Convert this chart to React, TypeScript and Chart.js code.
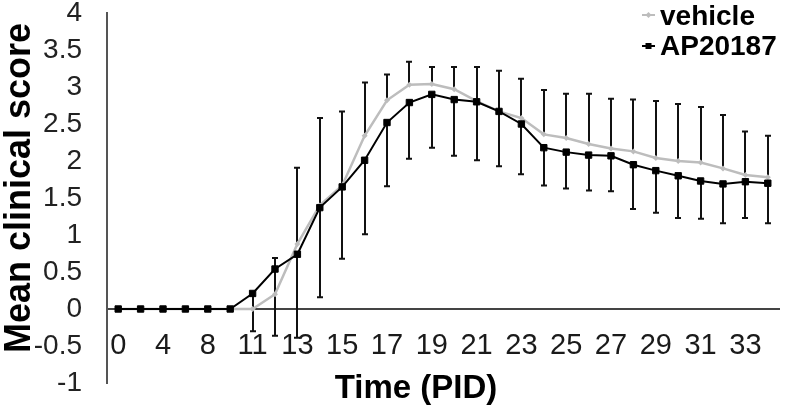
import React, { useEffect, useRef } from 'react';
import { Chart, registerables } from 'chart.js';

Chart.register(...registerables);

// ---- data ----
const days = ['0', '2', '4', '6', '8', '10', '11', '12', '13', '14', '15', '16', '17', '18', '19', '20', '21', '22', '23', '24', '25', '26', '27', '28', '29', '30', '31', '32', '33', '34'];
const vehicle = [0, 0, 0, 0, 0, 0, 0, 0.2, 0.88, 1.4, 1.67, 2.34, 2.82, 3.03, 3.04, 2.97, 2.81, 2.67, 2.58, 2.36, 2.31, 2.23, 2.17, 2.13, 2.04, 2.0, 1.98, 1.9, 1.81, 1.78];
const vehicleErrUp = [0, 0, 0, 0, 0, 0, 0, 0.49, 1.03, 1.18, 1.0, 0.72, 0.35, 0.31, 0.23, 0.3, 0.46, 0.55, 0.53, 0.6, 0.6, 0.68, 0.67, 0.7, 0.77, 0.77, 0.75, 0.72, 0.59, 0.56];
const ap20187 = [0, 0, 0, 0, 0, 0, 0.21, 0.54, 0.74, 1.37, 1.65, 2.01, 2.52, 2.79, 2.9, 2.83, 2.8, 2.67, 2.5, 2.18, 2.12, 2.08, 2.07, 1.95, 1.87, 1.8, 1.73, 1.69, 1.72, 1.7];
const ap20187ErrDown = [0, 0, 0, 0, 0, 0, 0.51, 0.9, 1.13, 1.21, 0.97, 1.0, 0.86, 0.76, 0.72, 0.76, 0.79, 0.74, 0.68, 0.51, 0.49, 0.48, 0.48, 0.6, 0.57, 0.57, 0.51, 0.53, 0.49, 0.54];
const seriesNames = ['vehicle', 'AP20187'];
const yTitle = 'Mean clinical score';
const xTitle = 'Time (PID)';
const yMin = -1;
const yMax = 4;
const yStep = 0.5;

const FONT = '"Liberation Sans", Arial, Helvetica, sans-serif';
const GREY = '#bdbdbd';
const BLACK = '#000000';

const errorBarPlugin = {
  id: 'errorBars',
  beforeDatasetsDraw(chart: any) {
    const { ctx } = chart;
    const xs = chart.scales.x;
    const ys = chart.scales.y;
    ctx.save();
    ctx.strokeStyle = '#111';
    ctx.lineWidth = 2;
    const cap = 3;
    const bar = (i: number, from: number, to: number) => {
      const px = Math.round(xs.getPixelForValue(i));
      const p1 = ys.getPixelForValue(from);
      const p2 = ys.getPixelForValue(to);
      ctx.beginPath();
      ctx.moveTo(px, p1);
      ctx.lineTo(px, p2);
      ctx.moveTo(px - cap, p2);
      ctx.lineTo(px + cap, p2);
      ctx.stroke();
    };
    vehicle.forEach((v, i) => {
      if (vehicleErrUp[i] > 0) bar(i, v, v + vehicleErrUp[i]);
    });
    ap20187.forEach((v, i) => {
      if (ap20187ErrDown[i] > 0) bar(i, v, v - ap20187ErrDown[i]);
    });
    ctx.restore();
  },
};

const decorPlugin = {
  id: 'decor',
  afterDraw(chart: any) {
    const { ctx, chartArea } = chart;
    ctx.save();
    // axis titles
    ctx.fillStyle = '#000';
    ctx.textAlign = 'center';
    ctx.textBaseline = 'middle';
    ctx.font = `bold 36px ${FONT}`;
    ctx.save();
    ctx.translate(20, (chartArea.top + chartArea.bottom) / 2 - 10);
    ctx.rotate(-Math.PI / 2);
    ctx.fillText(yTitle, 0, 0);
    ctx.restore();
    ctx.font = `bold 33px ${FONT}`;
    ctx.fillText(xTitle, chartArea.left + 309, chartArea.bottom + 6);

    // legend
    ctx.font = `bold 28px ${FONT}`;
    ctx.textAlign = 'left';
    ctx.textBaseline = 'alphabetic';
    const r = chartArea.right;
    const rows = [
      { name: seriesNames[0], color: GREY, y: chartArea.top + 2, base: chartArea.top + 12, marker: 'diamond' },
      { name: seriesNames[1], color: BLACK, y: chartArea.top + 33, base: chartArea.top + 42, marker: 'square' },
    ];
    rows.forEach((row) => {
      ctx.strokeStyle = row.color;
      ctx.fillStyle = row.color;
      ctx.lineWidth = 2;
      ctx.beginPath();
      ctx.moveTo(r - 137, row.y);
      ctx.lineTo(r - 124, row.y);
      ctx.stroke();
      const cx = r - 130.5;
      if (row.marker === 'square') {
        ctx.fillRect(cx - 3, row.y - 3, 6, 6);
      } else {
        ctx.beginPath();
        ctx.moveTo(cx, row.y - 3);
        ctx.lineTo(cx + 3, row.y);
        ctx.lineTo(cx, row.y + 3);
        ctx.lineTo(cx - 3, row.y);
        ctx.closePath();
        ctx.fill();
      }
      ctx.fillStyle = '#000';
      ctx.fillText(row.name, r - 119, row.base);
    });
    ctx.restore();
  },
};

export default function App() {
  const ref = useRef<HTMLCanvasElement | null>(null);

  useEffect(() => {
    if (!ref.current) return;
    const chart = new Chart(ref.current, {
      type: 'line',
      data: {
        labels: days,
        datasets: [
          {
            label: seriesNames[1],
            data: ap20187,
            borderColor: BLACK,
            backgroundColor: BLACK,
            borderWidth: 2,
            pointStyle: 'rect',
            pointRadius: 4.5,
            pointBorderWidth: 1,
            pointBackgroundColor: BLACK,
            pointBorderColor: BLACK,
            tension: 0,
            order: 0,
          },
          {
            label: seriesNames[0],
            data: vehicle,
            borderColor: GREY,
            backgroundColor: GREY,
            borderWidth: 2.5,
            pointStyle: 'rectRot',
            pointRadius: 3,
            pointBorderWidth: 0,
            pointBackgroundColor: GREY,
            tension: 0,
            order: 1,
          },
        ],
      },
      options: {
        responsive: false,
        animation: false,
        devicePixelRatio: 1,
        layout: { padding: { left: 0, top: 13, right: 9, bottom: 29 } },
        plugins: {
          legend: { display: false },
          tooltip: { enabled: false },
        },
        scales: {
          x: {
            type: 'category',
            position: { y: 0 } as any,
            offset: true,
            grid: { display: false, drawTicks: false },
            border: { display: true, color: '#444', width: 2 },
            ticks: {
              autoSkip: false,
              maxRotation: 0,
              minRotation: 0,
              padding: 20,
              color: '#1a1a1a',
              font: { family: FONT, size: 29 },
              callback: (_v: any, i: number) => (i % 2 === 0 ? days[i] : ''),
            },
            afterFit: (s: any) => {
              s.paddingLeft = 0;
              s.paddingRight = 0;
            },
          },
          y: {
            type: 'linear',
            position: 'left',
            min: yMin,
            max: yMax,
            grid: { display: false, drawTicks: false },
            border: { display: true, color: '#555', width: 2 },
            ticks: {
              stepSize: yStep,
              padding: 25,
              color: '#222',
              font: { family: FONT, size: 28 },
              callback: (v: any) => String(v),
            },
            afterFit: (s: any) => {
              s.width = 107;
              s.paddingTop = 0;
              s.paddingBottom = 0;
            },
          },
        },
      },
      plugins: [errorBarPlugin, decorPlugin],
    });
    return () => chart.destroy();
  }, []);

  return (
    <div style={{ position: 'fixed', left: 0, top: 0, width: 788, height: 412, background: '#fff' }}>
      <canvas ref={ref} width={788} height={412} style={{ width: 788, height: 412, display: 'block' }} />
    </div>
  );
}
